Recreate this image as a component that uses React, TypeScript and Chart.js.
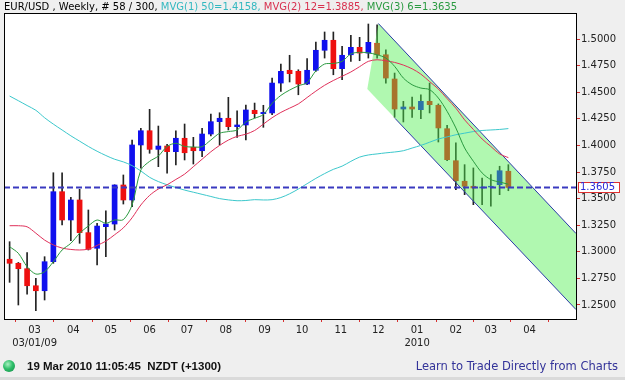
import React, { useEffect, useRef } from 'react';
import { Chart, registerables } from 'chart.js';

Chart.register(...registerables);

// ---- data (weekly EUR/USD candles, first candle week of 2009-02-09) ----
const firstWeek = '2009-02-09';
const opens = [1.2930, 1.2892, 1.2841, 1.2681, 1.2634, 1.2907, 1.3565, 1.3299, 1.3487, 1.3180,
  1.3033, 1.3236, 1.3261, 1.3628, 1.3487, 1.4004, 1.4138, 1.3963, 1.3994, 1.3941,
  1.4067, 1.3982, 1.3950, 1.4107, 1.4223, 1.4255, 1.4176, 1.4192, 1.4330, 1.4298,
  1.4305, 1.4586, 1.4706, 1.4696, 1.4577, 1.4706, 1.4894, 1.4988, 1.4721, 1.4852,
  1.4922, 1.4868, 1.4960, 1.4852, 1.4624, 1.4342, 1.4361, 1.4336, 1.4414, 1.4377,
  1.4157, 1.3856, 1.3663, 1.3616, 1.3600, 1.3609, 1.3631, 1.3757];
const highs = [1.3095, 1.2900, 1.2992, 1.2751, 1.2954, 1.3743, 1.3743, 1.3512, 1.3587, 1.3393,
  1.3268, 1.3386, 1.3630, 1.3722, 1.4051, 1.4161, 1.4339, 1.4182, 1.4010, 1.4138,
  1.4201, 1.4076, 1.4161, 1.4295, 1.4307, 1.4452, 1.4326, 1.4380, 1.4398, 1.4377,
  1.4633, 1.4765, 1.4847, 1.4711, 1.4815, 1.4972, 1.5066, 1.5066, 1.4931, 1.5035,
  1.5016, 1.5141, 1.5134, 1.4899, 1.4680, 1.4414, 1.4455, 1.4476, 1.4586, 1.4390,
  1.4189, 1.4023, 1.3819, 1.3788, 1.3694, 1.3725, 1.3804, 1.3819];
const lows = [1.2713, 1.2500, 1.2601, 1.2446, 1.2547, 1.2892, 1.3252, 1.3104, 1.3080, 1.3017,
  1.2876, 1.2954, 1.3205, 1.3449, 1.3424, 1.3785, 1.3926, 1.3800, 1.3738, 1.3816,
  1.3863, 1.3825, 1.3894, 1.4088, 1.4004, 1.4145, 1.4076, 1.4051, 1.4258, 1.4170,
  1.4290, 1.4508, 1.4596, 1.4476, 1.4570, 1.4696, 1.4821, 1.4664, 1.4617, 1.4790,
  1.4796, 1.4821, 1.4821, 1.4586, 1.4264, 1.4220, 1.4264, 1.4251, 1.4305, 1.4032,
  1.3856, 1.3584, 1.3537, 1.3443, 1.3443, 1.3428, 1.3537, 1.3574];
const closes = [1.2892, 1.2841, 1.2681, 1.2634, 1.2907, 1.3565, 1.3299, 1.3487, 1.3180, 1.3023,
  1.3242, 1.3261, 1.3628, 1.3487, 1.4004, 1.4138, 1.3963, 1.3994, 1.3941, 1.4067,
  1.3931, 1.3950, 1.4107, 1.4223, 1.4255, 1.4176, 1.4192, 1.4333, 1.4298, 1.4310,
  1.4586, 1.4696, 1.4674, 1.4577, 1.4706, 1.4894, 1.4988, 1.4721, 1.4847, 1.4922,
  1.4868, 1.4969, 1.4852, 1.4633, 1.4342, 1.4361, 1.4342, 1.4414, 1.4383, 1.4164,
  1.3866, 1.3668, 1.3616, 1.3600, 1.3609, 1.3616, 1.3762, 1.3605];

// moving averages (one value per candle)
const ma50 = [1.4464, 1.4420, 1.4375, 1.4330, 1.4260, 1.4200, 1.4145, 1.4090, 1.4040, 1.3990,
  1.3945, 1.3905, 1.3870, 1.3845, 1.3810, 1.3760, 1.3700, 1.3660, 1.3630, 1.3605,
  1.3580, 1.3560, 1.3540, 1.3520, 1.3500, 1.3488, 1.3480, 1.3482, 1.3490, 1.3487,
  1.3490, 1.3510, 1.3545, 1.3590, 1.3640, 1.3690, 1.3735, 1.3775, 1.3805, 1.3850,
  1.3890, 1.3910, 1.3920, 1.3930, 1.3938, 1.3950, 1.3975, 1.4000, 1.4030, 1.4060,
  1.4080, 1.4100, 1.4115, 1.4130, 1.4140, 1.4145, 1.4150, 1.4158];
const ma12 = [1.3245, 1.3245, 1.3235, 1.3175, 1.3110, 1.3065, 1.3035, 1.3022, 1.3017, 1.3025,
  1.3060, 1.3100, 1.3160, 1.3225, 1.3320, 1.3440, 1.3530, 1.3590, 1.3630, 1.3680,
  1.3730, 1.3800, 1.3870, 1.3940, 1.4000, 1.4050, 1.4085, 1.4105, 1.4140, 1.4200,
  1.4260, 1.4310, 1.4350, 1.4390, 1.4450, 1.4510, 1.4565, 1.4610, 1.4650, 1.4690,
  1.4740, 1.4790, 1.4805, 1.4795, 1.4780, 1.4755, 1.4720, 1.4670, 1.4600, 1.4530,
  1.4440, 1.4350, 1.4240, 1.4150, 1.4060, 1.3990, 1.3920, 1.3885];
const ma6 = [1.3048, 1.2986, 1.2860, 1.2791, 1.2813, 1.2907, 1.3017, 1.3080, 1.3174, 1.3243,
  1.3299, 1.3268, 1.3299, 1.3302, 1.3440, 1.3769, 1.3850, 1.3900, 1.3990, 1.4020,
  1.3990, 1.3985, 1.3988, 1.4051, 1.4114, 1.4130, 1.4145, 1.4220, 1.4255, 1.4290,
  1.4395, 1.4470, 1.4520, 1.4560, 1.4590, 1.4700, 1.4765, 1.4770, 1.4790, 1.4860,
  1.4875, 1.4870, 1.4852, 1.4821, 1.4743, 1.4633, 1.4570, 1.4539, 1.4524, 1.4445,
  1.4320, 1.4164, 1.3976, 1.3851, 1.3741, 1.3678, 1.3656, 1.3635];

// month axis
const monthDates = ['2009-03-01', '2009-04-01', '2009-05-01', '2009-06-01', '2009-07-01', '2009-08-01',
  '2009-09-01', '2009-10-01', '2009-11-01', '2009-12-01', '2010-01-01', '2010-02-01', '2010-03-01', '2010-04-01'];
const monthLabels = ['03', '04', '05', '06', '07', '08', '09', '10', '11', '12', '01', '02', '03', '04'];
const monthSubLabels = ['03/01/09', '', '', '', '', '', '', '', '', '', '2010', '', '', ''];

// price axis
const yTicks = [1.25, 1.275, 1.3, 1.325, 1.35, 1.375, 1.4, 1.425, 1.45, 1.475, 1.5];

// regression channel (x in weeks from first candle, y in price)
const channelUpper = [[42.14, 1.5146], [64.73, 1.3172]];
const channelLower = [[40.88, 1.4530], [64.73, 1.2457]];
const channelLowerStroke = [[44.05, 1.4254], [64.73, 1.2457]];

const xMin = -0.64;
const xMax = 64.73;
const yMin = 1.23684;
const yMax = 1.52444;

const FONT = '"DejaVu Sans", sans-serif';

function weeksFromStart(d: string): number {
  const a = Date.parse(firstWeek + 'T00:00:00Z');
  const b = Date.parse(d + 'T00:00:00Z');
  return (b - a) / (7 * 24 * 3600 * 1000);
}

export default function App() {
  const ref = useRef<HTMLCanvasElement>(null);

  useEffect(() => {
    const canvas = ref.current;
    if (!canvas) return;
    const idx = closes.map((_, i) => i);
    const lastClose = closes[closes.length - 1];
    const upCol = '#1010ee';
    const downCol = '#ee1010';
    const bodyColors = idx.map(i => (closes[i] >= opens[i] ? upCol : downCol));
    const monthPos = monthDates.map(weeksFromStart);

    const framePlugin = {
      id: 'frame',
      beforeDraw(chart: any) {
        const { ctx, chartArea: a } = chart;
        ctx.save();
        ctx.fillStyle = '#ffffff';
        ctx.fillRect(a.left, a.top, a.right - a.left, a.bottom - a.top);
        ctx.restore();
      },
      afterDraw(chart: any) {
        const { ctx, chartArea: a } = chart;
        ctx.save();
        ctx.strokeStyle = '#000';
        ctx.lineWidth = 1;
        ctx.strokeRect(a.left + 0.5, a.top + 0.5, a.right - a.left, a.bottom - a.top);
        // last price tag on the price axis
        const y = Math.round(chart.scales.y.getPixelForValue(lastClose));
        const x = a.right + 2;
        ctx.fillStyle = '#ffffff';
        ctx.fillRect(x, y - 5, 41, 10);
        ctx.strokeStyle = '#e03030';
        ctx.strokeRect(x + 0.5, y - 4.5, 41, 10);
        ctx.fillStyle = '#2a2ad8';
        ctx.font = '10px ' + FONT;
        ctx.textBaseline = 'middle';
        ctx.textAlign = 'left';
        ctx.fillText(lastClose.toFixed(4), x + 2, y + 0.5);
        ctx.restore();
      },
    };

    const lineDs = (label: string, data: number[], color: string, order: number) => ({
      type: 'line' as const,
      label,
      data: data.map((v, i) => ({ x: i, y: v })),
      borderColor: color,
      borderWidth: 1,
      pointRadius: 0,
      tension: 0.3,
      fill: false,
      order,
    });

    const chart = new Chart(canvas, {
      type: 'line',
      data: {
        datasets: [
          {
            type: 'bar',
            label: 'wicks',
            data: idx.map(i => ({ x: i, y: [lows[i], highs[i]] })) as any,
            backgroundColor: '#222222',
            barThickness: 1,
            grouped: false,
            order: 10,
          } as any,
          {
            type: 'bar',
            label: 'bodies',
            data: idx.map(i => ({ x: i, y: [opens[i], closes[i]] })) as any,
            backgroundColor: bodyColors,
            barThickness: 5,
            grouped: false,
            order: 9,
          } as any,
          {
            type: 'line',
            label: 'channel',
            data: [
              { x: channelUpper[0][0], y: channelUpper[0][1] },
              { x: channelUpper[1][0], y: channelUpper[1][1] },
              { x: channelLower[1][0], y: channelLower[1][1] },
              { x: channelLower[0][0], y: channelLower[0][1] },
              { x: channelUpper[0][0], y: channelUpper[0][1] },
            ],
            borderWidth: 0,
            borderColor: 'rgba(0,0,0,0)',
            backgroundColor: 'rgba(80,240,80,0.45)',
            fill: 'shape',
            pointRadius: 0,
            tension: 0,
            order: 8,
          } as any,
          {
            type: 'line',
            label: 'channelUpper',
            data: channelUpper.map(p => ({ x: p[0], y: p[1] })),
            borderColor: '#2a3aa8',
            borderWidth: 1,
            pointRadius: 0,
            fill: false,
            order: 7,
          } as any,
          {
            type: 'line',
            label: 'channelLower',
            data: channelLowerStroke.map(p => ({ x: p[0], y: p[1] })),
            borderColor: '#2a3aa8',
            borderWidth: 1,
            pointRadius: 0,
            fill: false,
            order: 7,
          } as any,
          lineDs('MVG(1) 50', ma50, '#3cc8cc', 6),
          lineDs('MVG(2) 12', ma12, '#e0305a', 5),
          lineDs('MVG(3) 6', ma6, '#2a9a40', 4),
          {
            type: 'line',
            label: 'last',
            data: [{ x: xMin, y: lastClose }, { x: xMax, y: lastClose }],
            borderColor: '#3a3ac0',
            borderWidth: 2,
            borderDash: [6, 3],
            pointRadius: 0,
            fill: false,
            order: 3,
          } as any,
        ],
      },
      options: {
        animation: false,
        responsive: false,
        devicePixelRatio: 1,
        parsing: true,
        layout: { padding: { left: 4, top: 13, right: 0, bottom: 0 } },
        plugins: {
          legend: { display: false },
          tooltip: { enabled: false },
          title: { display: false },
        },
        scales: {
          x: {
            type: 'linear',
            min: xMin,
            max: xMax,
            offset: false,
            border: { display: false },
            grid: { drawOnChartArea: false, drawTicks: true, tickLength: 3, color: '#d83030', lineWidth: 1 },
            ticks: {
              autoSkip: false,
              maxRotation: 0,
              minRotation: 0,
              padding: 2,
              color: '#222',
              font: { family: FONT, size: 10, lineHeight: 1.3 },
              callback: (_v: any, i: number) =>
                monthSubLabels[i] ? [monthLabels[i], monthSubLabels[i]] : monthLabels[i],
            },
            afterBuildTicks: (s: any) => {
              s.ticks = monthPos.map(v => ({ value: v }));
            },
            afterFit: (s: any) => {
              s.height = 61;
            },
          } as any,
          y: {
            type: 'linear',
            position: 'right',
            min: yMin,
            max: yMax,
            border: { display: false },
            grid: { drawOnChartArea: false, drawTicks: true, tickLength: 4, color: '#d83030', lineWidth: 1 },
            ticks: {
              padding: 1,
              color: '#222',
              font: { family: FONT, size: 10 },
              callback: (v: any) => Number(v).toFixed(4),
            },
            afterBuildTicks: (s: any) => {
              s.ticks = yTicks.map(v => ({ value: v }));
            },
            afterFit: (s: any) => {
              s.width = 49;
            },
          } as any,
        },
      },
      plugins: [framePlugin],
    });
    return () => chart.destroy();
  }, []);

  const last = (a: number[]) => a[a.length - 1].toFixed(4);

  return (
    <div style={{ position: 'fixed', left: 0, top: 0, width: 625, height: 380, background: '#efefef', overflow: 'hidden' }}>
      <canvas ref={ref} width={625} height={380} style={{ position: 'absolute', left: 0, top: 0, width: 625, height: 380 }} />
      <div style={{ position: 'absolute', left: 4, top: 0, font: '10px ' + FONT, lineHeight: '13px', whiteSpace: 'pre', color: '#000' }}>
        <span>EUR/USD , Weekly, # 58 / 300, </span>
        <span style={{ color: '#33b8c0' }}>{'MVG(1) 50=' + last(ma50) + ', '}</span>
        <span style={{ color: '#d8304e' }}>{'MVG(2) 12=' + last(ma12) + ', '}</span>
        <span style={{ color: '#2a9a40' }}>{'MVG(3) 6=' + last(ma6)}</span>
      </div>
      <div style={{ position: 'absolute', left: 3, top: 360, width: 12, height: 12, borderRadius: '50%', background: 'radial-gradient(circle at 40% 35%, #a8f0c0 0%, #2fbf6a 45%, #118a45 100%)' }} />
      <div style={{ position: 'absolute', left: 27, top: 359, font: 'bold 11.5px "Liberation Sans", Arial, sans-serif', lineHeight: '14px', whiteSpace: 'pre', color: '#111' }}>
        19 Mar 2010 11:05:45  NZDT (+1300)
      </div>
      <div style={{ position: 'absolute', right: 7, top: 359, font: '11.5px ' + FONT, lineHeight: '14px', whiteSpace: 'pre', color: '#333399' }}>
        Learn to Trade Directly from Charts
      </div>
      <div style={{ position: 'absolute', left: 0, top: 377, width: 625, height: 3, background: '#dadada' }} />
    </div>
  );
}
